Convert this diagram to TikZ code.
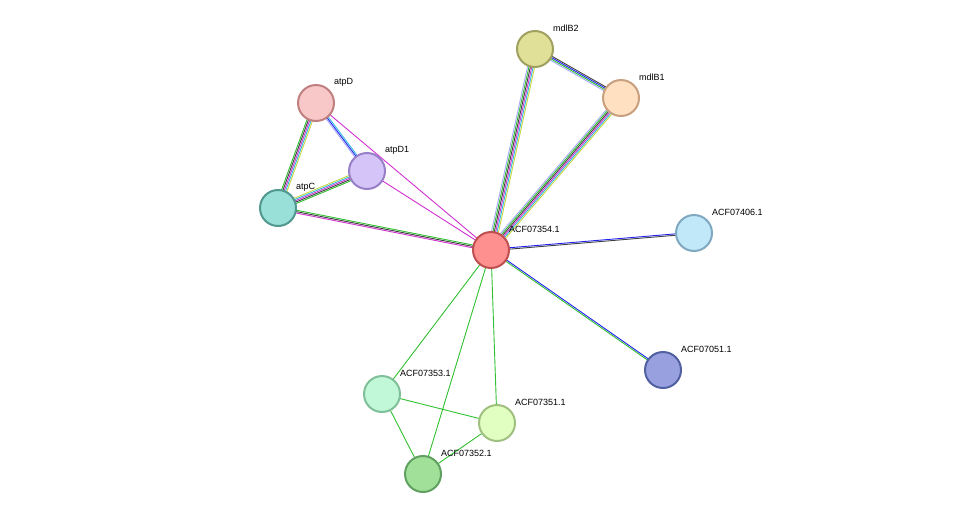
\documentclass[tikz,border=0pt]{standalone}
\usepackage{fontspec}
\setmainfont{Liberation Sans}
\usetikzlibrary{calc}
\definecolor{cgr}{HTML}{30C030}
\definecolor{cbk}{HTML}{404040}
\definecolor{cmg}{HTML}{D030D0}
\definecolor{ccy}{HTML}{30B8E0}
\definecolor{cyl}{HTML}{C8D840}
\definecolor{clv}{HTML}{A8A8FF}
\definecolor{cbl}{HTML}{2020F0}
\tikzset{
  prot/.style={circle,minimum size=36pt,inner sep=0pt,line width=2pt},
  lab/.style={anchor=west,font=\fontsize{9pt}{10pt}\selectfont,inner sep=0pt}
}
\newcommand\medge[3]{%
  \foreach \c [count=\i] in {#3} {\pgfmathsetmacro\n{0}}%
  \foreach \c [count=\i] in {#3} {\xdef\ncount{\i}}%
  \foreach \c [count=\i] in {#3} {%
    \pgfmathsetmacro\off{(\i-(\ncount+1)/2)*1.4}%
    \draw[\c,line width=0.9pt] ($(#1)!\off pt!90:(#2)$) -- ($(#2)!\off pt!-90:(#1)$);
  }}
\begin{document}
\begin{tikzpicture}[x=1pt,y=-1pt]
\useasboundingbox (0,0) rectangle (976,520);
\coordinate (atpD) at (316,103);
\coordinate (atpD1) at (367,171);
\coordinate (atpC) at (278,208);
\coordinate (mdlB2) at (535,49);
\coordinate (mdlB1) at (621,98);
\coordinate (hub) at (491,250);
\coordinate (p406) at (694,233);
\coordinate (p051) at (663,370);
\coordinate (p353) at (382,394);
\coordinate (p351) at (497,423);
\coordinate (p352) at (423,474);
\medge{atpD}{atpC}{cgr,cbk,cmg,ccy,cyl}
\medge{atpD}{atpD1}{clv,cbl,ccy}
\medge{atpD}{hub}{cmg}
\medge{atpC}{atpD1}{cgr,cbk,cmg,ccy,cyl}
\medge{atpD1}{hub}{cmg}
\medge{atpC}{hub}{cmg,cbk,cgr}
\medge{mdlB2}{mdlB1}{clv,cgr,cbl,cbk}
\medge{mdlB2}{hub}{clv,cgr,cbk,cmg,ccy,cyl}
\medge{mdlB1}{hub}{clv,cgr,cbk,cmg,ccy,cyl}
\medge{hub}{p406}{cbk,cbl}
\medge{hub}{p051}{cgr,cbl}
\medge{hub}{p353}{cgr}
\medge{hub}{p352}{cgr}
\medge{hub}{p351}{cgr}
\medge{p353}{p351}{cgr}
\medge{p353}{p352}{cgr}
\medge{p351}{p352}{cgr}
\node[prot,fill={rgb,255:red,248;green,200;blue,200},draw={rgb,255:red,192;green,128;blue,128}] (nD) at (atpD) {};
\node[prot,fill={rgb,255:red,212;green,196;blue,248},draw={rgb,255:red,152;green,128;blue,200}] (nD1) at (atpD1) {};
\node[prot,fill={rgb,255:red,152;green,224;blue,216},draw={rgb,255:red,80;green,152;blue,144}] (nC) at (atpC) {};
\node[prot,fill={rgb,255:red,224;green,224;blue,152},draw={rgb,255:red,160;green,160;blue,96}] (nB2) at (mdlB2) {};
\node[prot,fill={rgb,255:red,255;green,224;blue,192},draw={rgb,255:red,200;green,160;blue,128}] (nB1) at (mdlB1) {};
\node[prot,fill={rgb,255:red,255;green,144;blue,144},draw={rgb,255:red,192;green,80;blue,80}] (nH) at (hub) {};
\node[prot,fill={rgb,255:red,192;green,232;blue,248},draw={rgb,255:red,128;green,168;blue,192}] (n406) at (p406) {};
\node[prot,fill={rgb,255:red,152;green,160;blue,224},draw={rgb,255:red,80;green,96;blue,160}] (n051) at (p051) {};
\node[prot,fill={rgb,255:red,192;green,248;blue,216},draw={rgb,255:red,128;green,192;blue,152}] (n353) at (p353) {};
\node[prot,fill={rgb,255:red,224;green,255;blue,192},draw={rgb,255:red,160;green,192;blue,128}] (n351) at (p351) {};
\node[prot,fill={rgb,255:red,160;green,224;blue,152},draw={rgb,255:red,96;green,160;blue,96}] (n352) at (p352) {};
\node[lab] (lD) at (334,82) {atpD};
\node[lab] (lD1) at (385,150) {atpD1};
\node[lab] (lC) at (296,187) {atpC};
\node[lab] (lB2) at (553,28) {mdlB2};
\node[lab] (lB1) at (639,77) {mdlB1};
\node[lab] (lH) at (509,229) {ACF07354.1};
\node[lab] (l406) at (712,212) {ACF07406.1};
\node[lab] (l051) at (681,349) {ACF07051.1};
\node[lab] (l353) at (400,373) {ACF07353.1};
\node[lab] (l351) at (515,402) {ACF07351.1};
\node[lab] (l352) at (441,453) {ACF07352.1};
\end{tikzpicture}
\end{document}
